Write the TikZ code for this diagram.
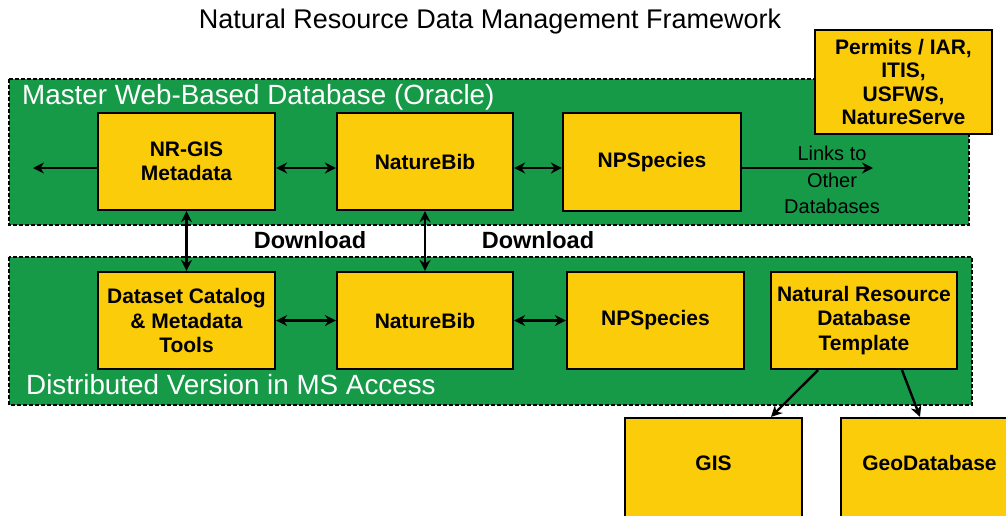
\documentclass[tikz,border=0pt]{standalone}
\usepackage{fontspec}
\setmainfont{Liberation Sans}
\usetikzlibrary{arrows.meta}
\definecolor{bggreen}{RGB}{22,154,72}
\definecolor{boxyellow}{RGB}{250,204,10}
\tikzset{
  panel/.style={draw=black, fill=bggreen, line width=1.4pt, dash pattern=on 4pt off 2pt},
  ybox/.style={draw=black, fill=boxyellow, line width=2.2pt, align=center, inner sep=2pt,
    font=\fontsize{21}{24.5}\selectfont\bfseries},
  arr/.style={line width=2.4pt, -{Stealth[length=11pt,width=11pt]}},
  darr/.style={line width=2.4pt, {Stealth[length=11pt,width=11pt]}-{Stealth[length=11pt,width=11pt]}},
  paneltitle/.style={text=white, anchor=west, inner sep=0pt, font=\fontsize{27.8}{30}\selectfont},
  dl/.style={font=\fontsize{23.5}{26}\selectfont\bfseries, inner sep=0pt}
}
\begin{document}
\begin{tikzpicture}[x=1pt,y=-1pt]
\useasboundingbox (0,0) rectangle (1006,515);
\clip (0,0) rectangle (1006,515);
% title
\node[font=\fontsize{27}{30}\selectfont, inner sep=0pt] (title) at (490,22) {Natural Resource Data Management Framework};
% panels
\draw[panel] (9,79) rectangle (969,225);
\draw[panel] (9,257) rectangle (972,405);
\node[paneltitle] (mastert) at (22,97) {Master Web-Based Database (Oracle)};
\node[paneltitle] (distt) at (26,385) {Distributed Version in MS Access};
% top row
\node[ybox, minimum width=177pt, minimum height=97pt] (nrgis) at (186.5,161.5) {NR-GIS\\Metadata};
\node[ybox, minimum width=176pt, minimum height=97pt] (nbtop) at (425,161.5) {NatureBib};
\node[ybox, minimum width=178pt, minimum height=98pt] (npstop) at (652,162) {NPSpecies};
\node[ybox, minimum width=177pt, minimum height=104pt, font=\fontsize{21}{23.5}\selectfont\bfseries] (permits) at (903.5,82) {Permits / IAR,\\ITIS,\\USFWS,\\NatureServe};
% bottom row
\node[ybox, minimum width=177pt, minimum height=97pt] (dscat) at (186.5,320.5) {Dataset Catalog\\\& Metadata\\Tools};
\node[ybox, minimum width=176pt, minimum height=97pt] (nbbot) at (425,320.5) {NatureBib};
\node[ybox, minimum width=177pt, minimum height=97pt] (npsbot) at (655.5,320.5) {NPSpecies};
\node[ybox, minimum width=186pt, minimum height=97pt] (tmpl) at (864,320.5) {Natural Resource\\Database\\Template};
% outputs
\node[ybox, minimum width=177pt, minimum height=130pt, text height=15pt, text depth=40pt] (gis) at (713.5,483) {GIS};
\node[ybox, minimum width=177pt, minimum height=130pt, text height=15pt, text depth=40pt] (geodb) at (929.5,483) {GeoDatabase};
% coordinates
\coordinate (rowa) at (0,168);
\coordinate (leftend) at (33,168);
\coordinate (linkend) at (873,168);
% top row arrows
\draw[arr] (nrgis.west |- rowa) -- (leftend);
\draw[darr] (nrgis.east |- rowa) -- (nbtop.west |- rowa);
\draw[darr] (nbtop.east |- rowa) -- (npstop.west |- rowa);
\draw[arr] (npstop.east |- rowa) -- (linkend);
\node[align=center, font=\fontsize{20}{26.5}\selectfont, inner sep=0pt] (links) at (832,180) {Links to\\Other\\Databases};
% vertical download arrows
\draw[darr] (nrgis.south) -- (dscat.north);
\draw[darr] (nbtop.south) -- (nbbot.north);
\node[dl] (dl1) at (310,240) {Download};
\node[dl] (dl2) at (538,240) {Download};
% bottom row arrows
\draw[darr] (dscat.east) -- (nbbot.west);
\draw[darr] (nbbot.east) -- (npsbot.west);
\draw[arr] ([xshift=-46pt]tmpl.south) -- ([xshift=57.5pt]gis.north);
\draw[arr] ([xshift=38pt]tmpl.south) -- ([xshift=-9.5pt]geodb.north);
\end{tikzpicture}
\end{document}
